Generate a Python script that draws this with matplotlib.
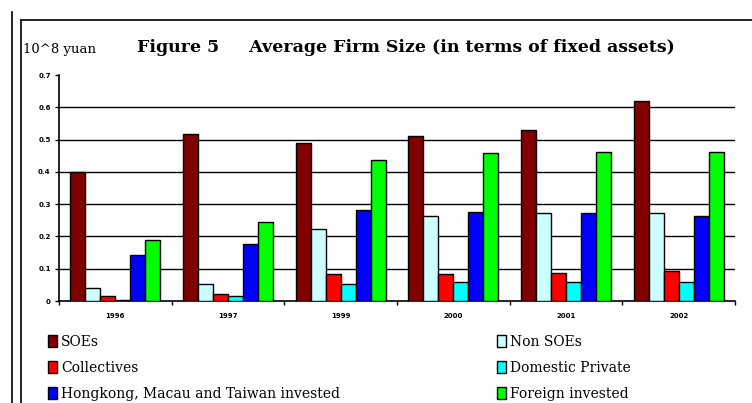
import numpy as np
import matplotlib
matplotlib.use("Agg")
import matplotlib.pyplot as plt
from matplotlib.lines import Line2D

years = ["1996", "1997", "1999", "2000", "2001", "2002"]
series = ["SOEs", "Non SOEs", "Collectives", "Domestic Private",
          "Hongkong, Macau and Taiwan invested", "Foreign invested"]
soes = [0.40, 0.517, 0.488, 0.511, 0.531, 0.618]
non_soes = [0.041, 0.053, 0.224, 0.262, 0.273, 0.273]
collectives = [0.016, 0.022, 0.085, 0.085, 0.086, 0.092]
domestic_private = [0.004, 0.014, 0.053, 0.059, 0.059, 0.059]
hk_macau_taiwan = [0.144, 0.178, 0.283, 0.277, 0.273, 0.262]
foreign = [0.19, 0.244, 0.436, 0.457, 0.46, 0.46]
yticks = [0, 0.1, 0.2, 0.3, 0.4, 0.5, 0.6, 0.7]
ytick_labels = ["0", "0.1", "0.2", "0.3", "0.4", "0.5", "0.6", "0.7"]

colors = ["#800000", "#ccffff", "#ff0000", "#00ffff", "#0000ff", "#00ff00"]
values = [soes, non_soes, collectives, domestic_private, hk_macau_taiwan, foreign]


def main():
    plt.rcParams['font.family'] = ['DejaVu Serif']
    fig = plt.figure(figsize=(7.52, 4.03), dpi=100)
    ax = fig.add_axes([59 / 752, 1 - 301 / 403, (735 - 59) / 752, (301 - 75) / 403])

    x = np.arange(len(years))
    w = 0.8 / len(series)
    handles = []
    for i, (vals, c) in enumerate(zip(values, colors)):
        b = ax.bar(x - 0.4 + w * (i + 0.5), vals, w, color=c,
                   edgecolor="black", linewidth=1, zorder=3, label=series[i])
        handles.append(b)

    ax.set_xlim(-0.5, len(years) - 0.5)
    ax.set_ylim(0, 0.7)
    ax.set_yticks(yticks)
    ax.set_yticklabels(ytick_labels, fontsize=5, fontweight="bold",
                       family="DejaVu Sans")
    ax.set_xticks(x)
    ax.set_xticklabels(years, fontsize=5, fontweight="bold", family="DejaVu Sans")
    ax.set_xticks(np.arange(len(years) + 1) - 0.5, minor=True)
    ax.tick_params(axis="x", which="major", length=0, pad=9)
    ax.tick_params(axis="x", which="minor", length=3, width=1)
    ax.tick_params(axis="y", length=3, width=1, pad=3)
    for v in yticks[1:-1]:
        ax.axhline(v, color="black", linewidth=1, zorder=1)
    for s in ["top", "right"]:
        ax.spines[s].set_visible(False)
    ax.spines["left"].set_linewidth(1.2)
    ax.spines["bottom"].set_linewidth(1.2)

    fig.text(137 / 752, 1 - 47 / 403,
             "Figure 5     Average Firm Size (in terms of fixed assets)",
             fontsize=12.5, fontweight="bold", va="center", ha="left")
    fig.text(23 / 752, 1 - 50 / 403, "10^8 yuan", fontsize=9.5,
             va="center", ha="left")

    kw = dict(frameon=False, fontsize=10, handlelength=0.65, handleheight=1.0,
              handletextpad=0.3, labelspacing=0.85, borderpad=0, borderaxespad=0)
    fig.legend([handles[0], handles[2], handles[4]],
               [series[0], series[2], series[4]], loc="upper left",
               bbox_to_anchor=(48 / 752, 1 - 335 / 403), **kw)
    fig.legend([handles[1], handles[3], handles[5]],
               [series[1], series[3], series[5]], loc="upper left",
               bbox_to_anchor=(497 / 752, 1 - 335 / 403), **kw)

    # page frame lines
    fig.add_artist(Line2D([12 / 752, 12 / 752], [0, 1 - 12 / 403],
                          color="black", linewidth=1.2))
    fig.add_artist(Line2D([21 / 752, 21 / 752], [0, 1 - 20 / 403],
                          color="black", linewidth=1.2))
    fig.add_artist(Line2D([21 / 752, 1], [1 - 20 / 403, 1 - 20 / 403],
                          color="black", linewidth=1.2))

    fig.savefig("out.png", dpi=100)


if __name__ == "__main__":
    main()
